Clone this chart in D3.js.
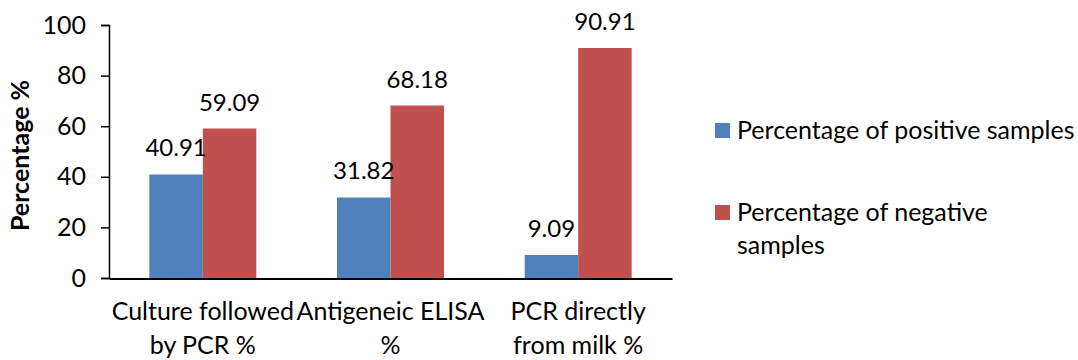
<!DOCTYPE html>
<html>
<head>
<meta charset="utf-8">
<script src="https://cdn.jsdelivr.net/npm/d3@7"></script>
<style>
  html, body { margin: 0; padding: 0; background: #fff; }
  svg text { font-family: Lato, "Open Sans", sans-serif; fill: #000; }
</style>
</head>
<body>
<svg id="chart" width="1078" height="360"></svg>
<script>
// ---- data ----
const categories = ["Culture followed by PCR %", "Antigeneic ELISA %", "PCR directly from milk %"];
const categoryLines = [["Culture followed", "by PCR %"], ["Antigeneic ELISA", "%"], ["PCR directly", "from milk %"]];
const seriesNames = ["Percentage of positive samples", "Percentage of negative samples"];
const seriesLines = [["Percentage of positive samples"], ["Percentage of negative", "samples"]];
const positiveValues = [40.91, 31.82, 9.09];
const negativeValues = [59.09, 68.18, 90.91];
const yTicks = [0, 20, 40, 60, 80, 100];
const colors = ["#4F81BD", "#C0504D"];

(function () {
const series = [positiveValues, negativeValues];

const svg = d3.select("#chart");
const mLeft = 109, mRight = 672, mTop = 25, mBottom = 278;

const x0 = d3.scaleBand().domain(categories).range([mLeft, mRight]).paddingInner(0.43).paddingOuter(0.215);
const x1 = d3.scaleBand().domain(seriesNames).range([0, x0.bandwidth()]);
const y = d3.scaleLinear().domain([0, 100]).range([mBottom, mTop]);

// bars
const groups = svg.append("g").selectAll("g").data(categories).join("g")
  .attr("transform", d => `translate(${x0(d)},0)`);

groups.selectAll("rect")
  .data((d, i) => seriesNames.map((s, j) => ({ s, j, v: series[j][i] })))
  .join("rect")
  .attr("x", d => x1(d.s))
  .attr("y", d => y(d.v))
  .attr("width", x1.bandwidth())
  .attr("height", d => y(0) - y(d.v))
  .attr("fill", d => colors[d.j]);

// data labels
groups.selectAll("text.val")
  .data((d, i) => seriesNames.map((s, j) => ({ s, j, v: series[j][i] })))
  .join("text")
  .attr("class", "val")
  .attr("x", d => x1(d.s) + x1.bandwidth() / 2)
  .attr("y", d => y(d.v) - 18)
  .attr("text-anchor", "middle")
  .style("font-size", "24px")
  .text(d => d.v.toFixed(2));

// y axis
const yAxis = d3.axisLeft(y).tickValues(yTicks).tickSize(8).tickPadding(15).tickFormat(d3.format("d"));
const gy = svg.append("g").attr("transform", `translate(${mLeft},0)`).call(yAxis);
gy.attr("font-family", null).attr("font-size", null);
gy.select(".domain").attr("stroke", "#000").attr("stroke-width", 1.5);
gy.selectAll(".tick line").attr("stroke", "#000").attr("stroke-width", 1.5);
gy.selectAll(".tick text").style("font-size", "25px").attr("fill", "#000");

// x axis
const xAxis = d3.axisBottom(x0).tickSize(0).tickFormat("");
const gx = svg.append("g").attr("transform", `translate(0,${mBottom + 0.5})`).call(xAxis);
gx.select(".domain").attr("stroke", "#000").attr("stroke-width", 2);

// category labels
svg.append("g").selectAll("text").data(categories).join("text")
  .attr("x", d => x0(d) + x0.bandwidth() / 2)
  .attr("y", 320)
  .attr("text-anchor", "middle")
  .style("font-size", "25px")
  .each(function (d, i) {
    const t = d3.select(this);
    categoryLines[i].forEach((ln, k) => {
      t.append("tspan").attr("x", x0(d) + x0.bandwidth() / 2).attr("dy", k === 0 ? 0 : 34).text(ln);
    });
  });

// y axis title
svg.append("text")
  .attr("transform", `translate(29,155.5) rotate(-90)`)
  .attr("text-anchor", "middle")
  .style("font-size", "25px")
  .style("font-weight", "bold")
  .text("Percentage %");

// legend
const legendY = [123, 205];
const legend = svg.append("g").selectAll("g").data(seriesNames).join("g")
  .attr("transform", (d, i) => `translate(715,${legendY[i]})`);
legend.append("rect").attr("width", 15).attr("height", 15).attr("fill", (d, i) => colors[i]);
legend.append("text")
  .attr("x", 22)
  .attr("y", 16)
  .style("font-size", "25px")
  .each(function (d, i) {
    const t = d3.select(this);
    seriesLines[i].forEach((ln, k) => {
      t.append("tspan").attr("x", 22).attr("dy", k === 0 ? 0 : 33).text(ln);
    });
  });
})();
</script>
</body>
</html>
